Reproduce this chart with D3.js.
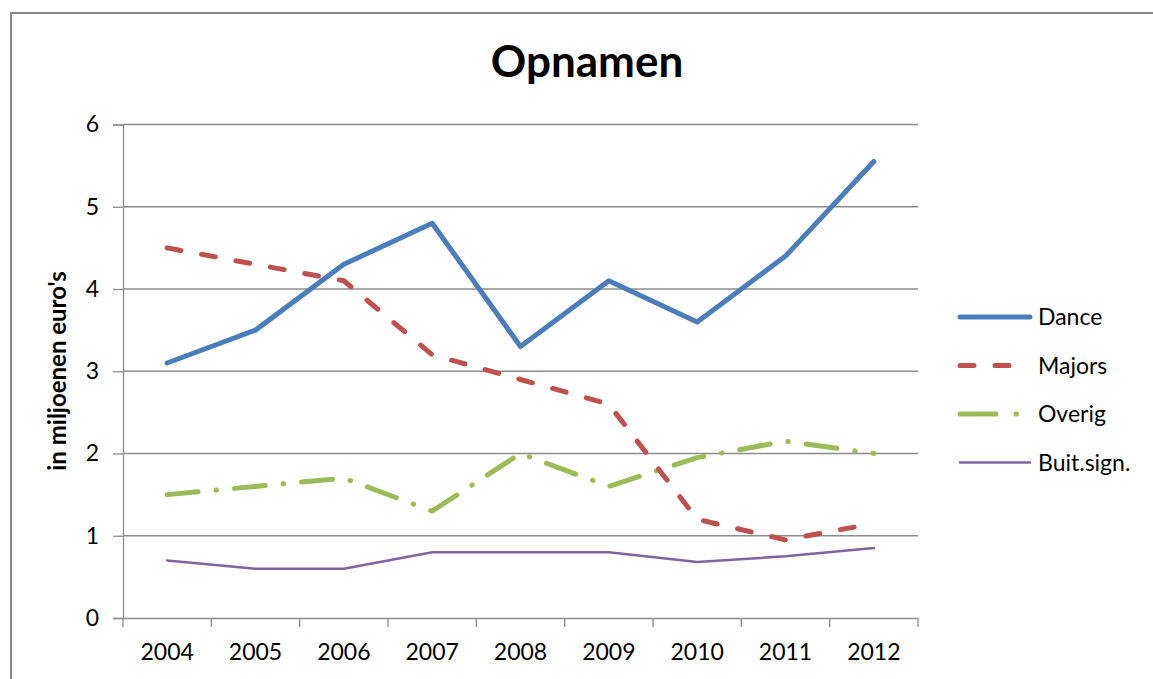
<!DOCTYPE html>
<html>
<head>
<meta charset="utf-8">
<script src="https://cdn.jsdelivr.net/npm/d3@7"></script>
<style>
  body { margin: 0; background: #fff; }
  svg text { font-family: Lato, "Open Sans", sans-serif; fill: #000; }
</style>
</head>
<body>
<div id="chart"></div>
<script>
// chart data
const years = ['2004', '2005', '2006', '2007', '2008', '2009', '2010', '2011', '2012']
const dance = [3.1, 3.5, 4.3, 4.8, 3.3, 4.1, 3.6, 4.4, 5.55]
const majors = [4.5, 4.3, 4.1, 3.2, 2.9, 2.6, 1.2, 0.95, 1.15]
const overig = [1.5, 1.6, 1.7, 1.3, 2.0, 1.6, 1.95, 2.15, 2.0]
const buitSign = [0.7, 0.6, 0.6, 0.8, 0.8, 0.8, 0.68, 0.75, 0.85]
const yTicks = [0, 1, 2, 3, 4, 5, 6]

const series = [
    { name: 'Dance', values: dance, color: '#4a7ebb', width: 5, dash: null },
    { name: 'Majors', values: majors, color: '#c0504d', width: 5, dash: '14,21' },
    { name: 'Overig', values: overig, color: '#9bbb59', width: 5, dash: '31,18,0.5,18' },
    { name: 'Buit.sign.', values: buitSign, color: '#8064a2', width: 2.5, dash: null }
]

const W = 1153, H = 679
const plot = { left: 123, right: 918, top: 124.5, bottom: 618 }

const svg = d3.select('#chart')
    .append('svg')
    .attr('width', W)
    .attr('height', H)

// outer border of the chart
svg.append('rect')
    .attr('x', 11).attr('y', 13)
    .attr('width', W + 10).attr('height', H + 10)
    .attr('fill', 'none')
    .attr('stroke', '#878787')
    .attr('stroke-width', 2)

const x = d3.scaleBand()
    .domain(years)
    .range([plot.left, plot.right])

const y = d3.scaleLinear()
    .domain([0, 6])
    .range([plot.bottom, plot.top])

// gridlines
svg.append('g')
    .selectAll('line')
    .data(yTicks.slice(1))
    .join('line')
    .attr('x1', plot.left).attr('x2', plot.right)
    .attr('y1', d => y(d)).attr('y2', d => y(d))
    .attr('stroke', '#8c8c8c')
    .attr('stroke-width', 1.3)

// Y axis
const yAxis = svg.append('g')
    .attr('transform', 'translate(' + plot.left + ',0)')
    .call(d3.axisLeft(y).tickValues(yTicks).tickFormat(d3.format('d')).tickSize(10).tickPadding(14))
yAxis.select('.domain').attr('stroke', '#8c8c8c').attr('stroke-width', 1.3)
yAxis.selectAll('.tick line').attr('stroke', '#8c8c8c').attr('stroke-width', 1.3)
yAxis.selectAll('.tick text')
    .style('font-size', '23px')
    .style('font-family', 'Lato, sans-serif')
    .attr('fill', '#000')

// X axis: labels centred in bands, tick marks on band edges
const xAxis = svg.append('g')
    .attr('transform', 'translate(0,' + plot.bottom + ')')
    .call(d3.axisBottom(x).tickSize(0).tickPadding(26))
xAxis.select('.domain').attr('stroke', '#8c8c8c').attr('stroke-width', 1.3)
xAxis.selectAll('.tick text')
    .style('font-size', '23px')
    .style('font-family', 'Lato, sans-serif')
    .attr('fill', '#000')
xAxis.selectAll('.edge')
    .data(years.concat(['end']))
    .join('line')
    .attr('class', 'edge')
    .attr('x1', (d, i) => plot.left + i * x.step())
    .attr('x2', (d, i) => plot.left + i * x.step())
    .attr('y1', 0).attr('y2', 9)
    .attr('stroke', '#8c8c8c')
    .attr('stroke-width', 1.3)

// the lines
const line = d3.line()
    .x((d, i) => x(years[i]) + x.bandwidth() / 2)
    .y(d => y(d))

series.slice().reverse().forEach(function (s) {
    svg.append('path')
        .datum(s.values)
        .attr('fill', 'none')
        .attr('stroke', s.color)
        .attr('stroke-width', s.width)
        .attr('stroke-linecap', 'round')
        .attr('stroke-linejoin', 'round')
        .attr('stroke-dasharray', s.dash)
        .attr('d', line)
})

// title
svg.append('text')
    .attr('x', 587).attr('y', 77)
    .attr('text-anchor', 'middle')
    .style('font-size', '44px')
    .style('font-weight', 'bold')
    .text('Opnamen')

// y axis title
svg.append('text')
    .attr('transform', 'translate(66,371) rotate(-90)')
    .attr('text-anchor', 'middle')
    .style('font-size', '24px')
    .style('font-weight', 'bold')
    .text("in miljoenen euro's")

// legend
const legend = svg.append('g')
    .attr('transform', 'translate(960,317)')
series.forEach(function (s, i) {
    const g = legend.append('g').attr('transform', 'translate(0,' + i * 48.5 + ')')
    g.append('line')
        .attr('x1', 0).attr('x2', s.name === 'Overig' ? 58 : 70)
        .attr('y1', 0).attr('y2', 0)
        .attr('stroke', s.color)
        .attr('stroke-width', s.width)
        .attr('stroke-linecap', 'round')
        .attr('stroke-dasharray', s.name === 'Overig' ? '36,20,0.5,20' : s.dash)
    g.append('text')
        .attr('x', 78).attr('y', 8)
        .style('font-size', '23px')
        .text(s.name)
})
</script>
</body>
</html>
